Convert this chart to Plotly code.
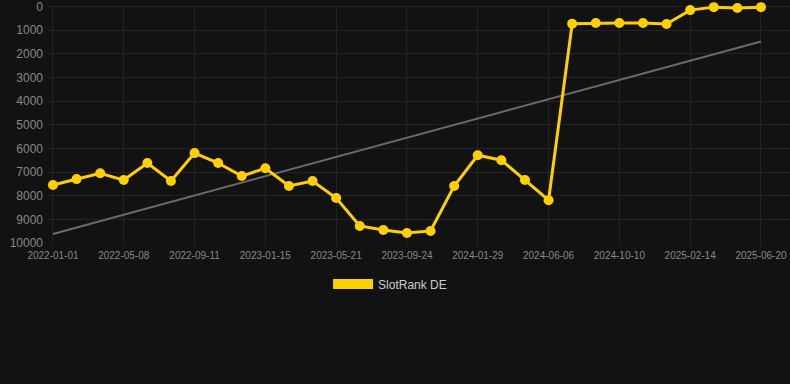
import plotly.graph_objects as go

dates = [
    "2022-01-01", "2022-02-12", "2022-03-26", "2022-05-08", "2022-06-19", "2022-07-31",
    "2022-09-11", "2022-10-23", "2022-12-04", "2023-01-15", "2023-02-26", "2023-04-09",
    "2023-05-21", "2023-07-02", "2023-08-13", "2023-09-24", "2023-11-05", "2023-12-17",
    "2024-01-29", "2024-03-10", "2024-04-24", "2024-06-06", "2024-07-18", "2024-08-29",
    "2024-10-10", "2024-11-21", "2025-01-03", "2025-02-14", "2025-03-28", "2025-05-09",
    "2025-06-20",
]
rank = [
    7550, 7300, 7050, 7340, 6620, 7380, 6200, 6620, 7170, 6840, 7590, 7380,
    8100, 9280, 9450, 9580, 9490, 7590, 6290, 6500, 7340, 8190,
    730, 700, 700, 700, 745, 155, 30, 70, 30,
]
trend_x = [dates[0], dates[-1]]
trend_y = [9620, 1480]
tick_labels = dates[::3]
y_ticks = [0, 1000, 2000, 3000, 4000, 5000, 6000, 7000, 8000, 9000, 10000]
y_tick_text = [str(v) for v in y_ticks]
series_name = "SlotRank DE"

YELLOW = "#ffd000"
BG = "#121212"
GRID = "#232323"

fig = go.Figure()
fig.add_trace(go.Scatter(
    x=trend_x, y=trend_y, mode="lines",
    line=dict(color="#6a6a6a", width=2), showlegend=False, hoverinfo="skip",
))
fig.add_trace(go.Scatter(
    x=dates, y=rank, mode="lines+markers", name=series_name,
    line=dict(color=YELLOW, width=3),
    marker=dict(color=YELLOW, size=10),
    showlegend=False, cliponaxis=False,
))
fig.add_trace(go.Scatter(
    x=[None], y=[None], mode="lines", name=series_name,
    line=dict(color=YELLOW, width=12), showlegend=True,
))

fig.update_layout(
    width=790, height=384,
    margin=dict(l=48, r=0, t=4.6, b=141),
    paper_bgcolor=BG, plot_bgcolor=BG,
    font=dict(family="Liberation Sans, Arial, sans-serif", color="#888888", size=11),
    legend=dict(
        orientation="h", x=0.461, xanchor="center", y=-0.172, yanchor="middle",
        font=dict(color="#cccccc", size=12), itemwidth=40,
        bgcolor="rgba(0,0,0,0)",
    ),
    xaxis=dict(
        type="category", categoryorder="array", categoryarray=dates,
        range=[-0.21, 31.23],
        tickmode="array", tickvals=tick_labels, ticktext=tick_labels,
        showgrid=True, gridcolor=GRID, gridwidth=1,
        zeroline=False, showline=False,
        ticks="outside", ticklen=3, tickcolor=GRID,
        tickfont=dict(size=10, color="#888888"),
        ticklabeloverflow="allow",
    ),
    yaxis=dict(
        range=[10000, -60], tickmode="array",
        tickvals=y_ticks, ticktext=y_tick_text,
        showgrid=True, gridcolor=GRID, gridwidth=1,
        zeroline=False, showline=False,
        tickfont=dict(size=12, color="#888888"),
        ticks="", ticklabelstandoff=4,
        ticklabeloverflow="allow",
    ),
)

fig.write_html(
    "out.html",
    config={"displayModeBar": False},
    post_script="document.body.style.margin='0';document.body.style.background='#121212';",
)
